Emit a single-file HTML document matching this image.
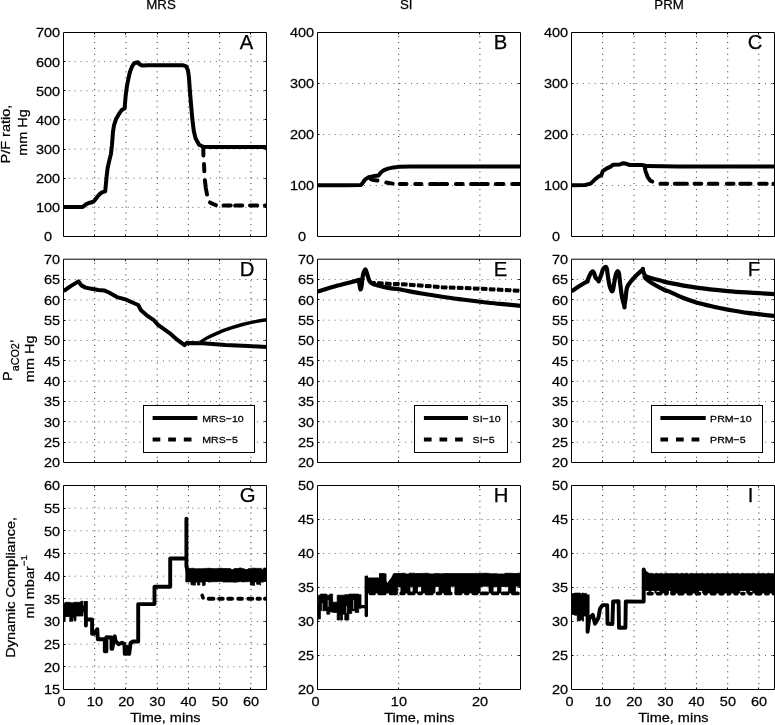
<!DOCTYPE html>
<html lang="en"><head><meta charset="utf-8"><title>Recruitment manoeuvres: P/F ratio, PaCO2 and dynamic compliance</title>
<style>
html,body{margin:0;padding:0;background:#fff;}
body{width:775px;height:725px;overflow:hidden;}
svg{display:block;}
svg text{font-family:"Liberation Sans", Arial, Helvetica, sans-serif;fill:#000;stroke:#000;stroke-width:.25px;}
.tk{font-size:13.45px;}
.ti{font-size:13.3px;}
.lb{font-size:13.45px;}
.pl{font-size:20.3px;}
.lg{font-size:9.8px;}
.ax{fill:none;stroke:#000;stroke-width:1;}
.gr{fill:none;stroke:#000;stroke-width:1;stroke-dasharray:1 4.88;stroke-opacity:.85;}
.gh{stroke-opacity:.6;}
.cv{fill:none;stroke:#000;stroke-width:4.0;stroke-linejoin:round;stroke-linecap:butt;}
</style></head><body>
<svg width="775" height="725" viewBox="0 0 775 725">
<rect x="0" y="0" width="775" height="725" fill="#fff"/>
<defs>
<clipPath id="c00"><rect x="63.5" y="32.5" width="203" height="204"/></clipPath>
<clipPath id="c01"><rect x="317.5" y="32.5" width="203" height="204"/></clipPath>
<clipPath id="c02"><rect x="571.5" y="32.5" width="203" height="204"/></clipPath>
<clipPath id="c10"><rect x="63.5" y="259.2" width="203" height="203.3"/></clipPath>
<clipPath id="c11"><rect x="317.5" y="259.2" width="203" height="203.3"/></clipPath>
<clipPath id="c12"><rect x="571.5" y="259.2" width="203" height="203.3"/></clipPath>
<clipPath id="c20"><rect x="63.5" y="485.5" width="203" height="204"/></clipPath>
<clipPath id="c21"><rect x="317.5" y="485.5" width="203" height="204"/></clipPath>
<clipPath id="c22"><rect x="571.5" y="485.5" width="203" height="204"/></clipPath>
</defs>
<g>
<path class="gr" d="M94.7 237 V32.5 M126 237 V32.5 M157.2 237 V32.5 M188.4 237 V32.5 M219.7 237 V32.5 M250.9 237 V32.5"/>
<path class="gr gh" d="M63 207.4 H266.5 M63 178.2 H266.5 M63 149.1 H266.5 M63 119.9 H266.5 M63 90.8 H266.5 M63 61.6 H266.5"/>
<g clip-path="url(#c00)">
<path class="cv" d="M203.3 147 L203.4 155.4 M204 164.1 L204.3 171.2 M204.9 180.3 L205.8 188 L207 194.5 M210 202.4 L213 204 L215.9 205.1 M223.5 205.6 L230.7 205.6 M235.2 205.6 L242.3 205.6 M250 205.6 L257.2 205.6 M264.9 205.6 L269 205.6" style="stroke-linecap:round"/>
<path class="cv" d="M63.6 206.9 L82.7 206.9 L86.3 204.1 L89.8 202.7 L93.4 201.7 L96.2 198.4 L99.1 194.6 L101.9 192.4 L105.2 191.4 L105.8 185.3 L106.6 176.8 L107.6 168.3 L109 161.9 L110.9 154.1 L111.9 145.5 L112.6 137 L112.9 132.4 L114 125.3 L116.1 118.9 L119 113.9 L121.8 109.9 L124.7 108.2 L125.1 102.5 L125.7 95.4 L126.8 86.9 L128.5 78.4 L129.9 72 L132.2 66.3 L134.2 63.2 L137.9 62.2 L139.6 64.4 L142.4 65.6 L148.1 65.3 L170 65.2 L182.7 65.2 L186.3 66.3 L188 70.6 L188.9 77 L189.8 89.7 L191 104 L192.4 119.6 L193.8 131 L195.5 138.1 L198.1 143 L199.1 144.8 L203.3 146.7 L210 146.9 L267 146.9"/>
</g>
<path class="ax" d="M63.5 32.5 H266.5 V236.5 H63.5 Z M94.5 236.5 v-2 M94.5 32.5 v2 M125.5 236.5 v-2 M125.5 32.5 v2 M157.5 236.5 v-2 M157.5 32.5 v2 M188.5 236.5 v-2 M188.5 32.5 v2 M219.5 236.5 v-2 M219.5 32.5 v2 M250.5 236.5 v-2 M250.5 32.5 v2 M63.5 207.5 h2 M266.5 207.5 h-2 M63.5 178.5 h2 M266.5 178.5 h-2 M63.5 149.5 h2 M266.5 149.5 h-2 M63.5 119.5 h2 M266.5 119.5 h-2 M63.5 90.5 h2 M266.5 90.5 h-2 M63.5 61.5 h2 M266.5 61.5 h-2"/>
<text class="tk" transform="translate(52 241.4) scale(1.078 1)" text-anchor="end">0</text>
<text class="tk" transform="translate(60.1 212.3) scale(1.078 1)" text-anchor="end">100</text>
<text class="tk" transform="translate(60.1 183.1) scale(1.078 1)" text-anchor="end">200</text>
<text class="tk" transform="translate(60.1 154) scale(1.078 1)" text-anchor="end">300</text>
<text class="tk" transform="translate(60.1 124.8) scale(1.078 1)" text-anchor="end">400</text>
<text class="tk" transform="translate(60.1 95.7) scale(1.078 1)" text-anchor="end">500</text>
<text class="tk" transform="translate(60.1 66.5) scale(1.078 1)" text-anchor="end">600</text>
<text class="tk" transform="translate(60.1 37.4) scale(1.078 1)" text-anchor="end">700</text>
<text class="pl" x="239.7" y="49.4">A</text>
</g>
<g>
<path class="gr" d="M398.7 237 V32.5 M479.9 237 V32.5"/>
<path class="gr gh" d="M317 185.5 H520.5 M317 134.5 H520.5 M317 83.5 H520.5"/>
<g clip-path="url(#c01)">
<path class="cv" d="M370.8 179 L373.5 180 L377.4 180.6 M386.3 182.5 L392.6 183.6 M399.7 184 H406.5 M415.2 184 H421.4 M430.1 184 H437.6 M439.8 184 H447.1 M455.9 184 H462.7 M471 184 H478.2 M480.4 184 H487.8 M495.8 184 H503.4 M512.1 184 H521" style="stroke-linecap:round"/>
<path class="cv" d="M317.6 185.3 L346.7 185.3 L360.9 185 L363 182.5 L365.2 179.4 L368.7 177.2 L373.7 176.1 L378.7 175.4 L380.8 172.5 L383.6 170.4 L387.9 168.6 L393.6 167.4 L399.3 166.8 L410.6 166.6 L521 166.6"/>
</g>
<path class="ax" d="M317.5 32.5 H520.5 V236.5 H317.5 Z M398.5 236.5 v-2 M398.5 32.5 v2 M479.5 236.5 v-2 M479.5 32.5 v2 M317.5 185.5 h2 M520.5 185.5 h-2 M317.5 134.5 h2 M520.5 134.5 h-2 M317.5 83.5 h2 M520.5 83.5 h-2"/>
<text class="tk" transform="translate(306.1 241.4) scale(1.078 1)" text-anchor="end">0</text>
<text class="tk" transform="translate(314.1 190.4) scale(1.078 1)" text-anchor="end">100</text>
<text class="tk" transform="translate(314.1 139.4) scale(1.078 1)" text-anchor="end">200</text>
<text class="tk" transform="translate(314.1 88.4) scale(1.078 1)" text-anchor="end">300</text>
<text class="tk" transform="translate(314.1 37.4) scale(1.078 1)" text-anchor="end">400</text>
<text class="pl" x="493.7" y="49.4">B</text>
</g>
<g>
<path class="gr" d="M602.7 237 V32.5 M634 237 V32.5 M665.2 237 V32.5 M696.4 237 V32.5 M727.7 237 V32.5 M758.9 237 V32.5"/>
<path class="gr gh" d="M571 185.5 H774.5 M571 134.5 H774.5 M571 83.5 H774.5"/>
<g clip-path="url(#c02)">
<path class="cv" d="M644.7 166.1 L645.5 171.1 L647.6 176.8 L650 180.4 L652.2 181.6 M660.4 183.7 H667.2 M674.8 183.7 H686.9 M694.5 183.7 H701.3 M708.8 183.7 H717.4 M726.8 183.7 H733.5 M740.2 183.7 H750.6 M759.1 183.7 H766.7 M773.4 183.7 H777" style="stroke-linecap:round"/>
<path class="cv" d="M571.6 185.3 L585.1 185 L590.7 183.6 L595 179.4 L598.6 176.5 L601.4 175.1 L602.8 171.1 L606.4 168.6 L610.6 166.6 L613.2 164.7 L619.9 164.4 L622.7 163.3 L625.6 163.6 L629.8 165 L641.9 165 L647.6 166.1 L678 166.6 L775 166.6"/>
</g>
<path class="ax" d="M571.5 32.5 H774.5 V236.5 H571.5 Z M602.5 236.5 v-2 M602.5 32.5 v2 M633.5 236.5 v-2 M633.5 32.5 v2 M665.5 236.5 v-2 M665.5 32.5 v2 M696.5 236.5 v-2 M696.5 32.5 v2 M727.5 236.5 v-2 M727.5 32.5 v2 M758.5 236.5 v-2 M758.5 32.5 v2 M571.5 185.5 h2 M774.5 185.5 h-2 M571.5 134.5 h2 M774.5 134.5 h-2 M571.5 83.5 h2 M774.5 83.5 h-2"/>
<text class="tk" transform="translate(560.1 241.4) scale(1.078 1)" text-anchor="end">0</text>
<text class="tk" transform="translate(568.1 190.4) scale(1.078 1)" text-anchor="end">100</text>
<text class="tk" transform="translate(568.1 139.4) scale(1.078 1)" text-anchor="end">200</text>
<text class="tk" transform="translate(568.1 88.4) scale(1.078 1)" text-anchor="end">300</text>
<text class="tk" transform="translate(568.1 37.4) scale(1.078 1)" text-anchor="end">400</text>
<text class="pl" x="747.7" y="49.4">C</text>
</g>
<g>
<path class="gr" d="M94.7 262.7 V462.5 M126 262.7 V462.5 M157.2 262.7 V462.5 M188.4 262.7 V462.5 M219.7 262.7 V462.5 M250.9 262.7 V462.5"/>
<path class="gr gh" d="M63 442.2 H266.5 M63 421.8 H266.5 M63 401.5 H266.5 M63 381.2 H266.5 M63 360.9 H266.5 M63 340.5 H266.5 M63 320.2 H266.5 M63 299.9 H266.5 M63 279.5 H266.5"/>
<g clip-path="url(#c10)">
<path class="cv" d="M63.6 291.1 L70.7 286.1 L78.5 281.4 L81.3 285.4 L85.6 287.6 L92.7 289 L98.4 290 L104.1 290.4 L109 292.5 L116.9 297.1 L125.4 299.4 L132.5 302.5 L138.2 305 L141 310.3 L146.7 315.3 L153.8 320.2 L158.1 324.9 L169.9 333.3 L177.1 339.7 L184.5 345.2 L186.8 342.9 L202.7 343.2 L225.4 345 L248.1 346.1 L267 346.9" style="stroke-width:4"/>
<path class="cv" d="M200.5 342 C201.8 341.2 205.2 338.9 208.4 337.3 C211.6 335.7 215.9 333.7 219.7 332.1 C223.5 330.5 227.3 329.2 231.1 327.9 C234.9 326.6 238.7 325.5 242.5 324.5 C246.3 323.5 249.7 322.7 253.8 321.9 C257.9 321.1 264.8 320.1 267 319.8" style="stroke-width:3.4"/>
</g>
<path class="ax" d="M63.5 259.2 H266.5 V462.5 H63.5 Z M94.5 462.5 v-2 M94.5 259.2 v2 M125.5 462.5 v-2 M125.5 259.2 v2 M157.5 462.5 v-2 M157.5 259.2 v2 M188.5 462.5 v-2 M188.5 259.2 v2 M219.5 462.5 v-2 M219.5 259.2 v2 M250.5 462.5 v-2 M250.5 259.2 v2 M63.5 442.5 h2 M266.5 442.5 h-2 M63.5 421.5 h2 M266.5 421.5 h-2 M63.5 401.5 h2 M266.5 401.5 h-2 M63.5 381.5 h2 M266.5 381.5 h-2 M63.5 360.5 h2 M266.5 360.5 h-2 M63.5 340.5 h2 M266.5 340.5 h-2 M63.5 320.5 h2 M266.5 320.5 h-2 M63.5 299.5 h2 M266.5 299.5 h-2 M63.5 279.5 h2 M266.5 279.5 h-2"/>
<text class="tk" transform="translate(60.1 467.4) scale(1.078 1)" text-anchor="end">20</text>
<text class="tk" transform="translate(60.1 447.1) scale(1.078 1)" text-anchor="end">25</text>
<text class="tk" transform="translate(60.1 426.7) scale(1.078 1)" text-anchor="end">30</text>
<text class="tk" transform="translate(60.1 406.4) scale(1.078 1)" text-anchor="end">35</text>
<text class="tk" transform="translate(60.1 386.1) scale(1.078 1)" text-anchor="end">40</text>
<text class="tk" transform="translate(60.1 365.8) scale(1.078 1)" text-anchor="end">45</text>
<text class="tk" transform="translate(60.1 345.4) scale(1.078 1)" text-anchor="end">50</text>
<text class="tk" transform="translate(60.1 325.1) scale(1.078 1)" text-anchor="end">55</text>
<text class="tk" transform="translate(60.1 304.8) scale(1.078 1)" text-anchor="end">60</text>
<text class="tk" transform="translate(60.1 284.4) scale(1.078 1)" text-anchor="end">65</text>
<text class="tk" transform="translate(60.1 264.1) scale(1.078 1)" text-anchor="end">70</text>
<text class="pl" x="239.7" y="276.1">D</text>
</g>
<g>
<path class="gr" d="M398.7 262.7 V462.5 M479.9 262.7 V462.5"/>
<path class="gr gh" d="M317 442.2 H520.5 M317 421.8 H520.5 M317 401.5 H520.5 M317 381.2 H520.5 M317 360.9 H520.5 M317 340.5 H520.5 M317 320.2 H520.5 M317 299.9 H520.5 M317 279.5 H520.5"/>
<g clip-path="url(#c11)">
<path class="cv" d="M372.5 282.9 L378.9 283.3 L391 283.9 L399.1 284 L420 285.5 L442.1 287.2 L482.3 288.8 L521 290.8" style="stroke-dasharray:4.6 3.4;stroke-dashoffset:2.5;stroke-width:2.4;stroke-linecap:round"/>
<path class="cv" d="M372.5 282.9 L378.9 283.3 L391 283.9 L399.1 284 L420 285.5 L442.1 287.2 L482.3 288.8 L521 290.8" style="stroke-dasharray:6.2 1.8;stroke-dashoffset:3.3"/>
<path class="cv" d="M317.6 291.6 C320.9 290.6 330.9 287.5 337.6 285.6 C344.3 283.7 354.4 281.3 357.8 280.4 C361.2 279.5 357.6 279.9 357.8 280.4 C358.1 280.9 358.9 281.7 359.3 283.2 C359.7 284.7 360 289 360.4 289.4 C360.8 289.8 361.2 288.1 361.6 285.8 C362 283.5 362.3 278.2 362.9 275.5 C363.5 272.8 364.5 269.3 365.3 269.3 C366.1 269.3 366.9 273.5 367.6 275.5 C368.3 277.5 368.8 279.8 369.6 281.2 C370.5 282.6 371.1 283.1 372.7 283.9 C374.2 284.7 376.1 285.1 378.9 285.8 C381.7 286.5 385.9 287.5 389.3 288.1 C392.7 288.7 394 288.5 399.1 289.3 C404.2 290.1 412.8 292 420 293.2 C427.2 294.4 435.1 295.6 442.1 296.7 C449.1 297.8 455.3 298.6 462 299.5 C468.7 300.4 476 301.3 482.3 302 C488.6 302.7 493.6 303.3 500 303.9 C506.4 304.5 517.5 305.5 521 305.8" style="stroke-width:4.2"/>
</g>
<path class="ax" d="M317.5 259.2 H520.5 V462.5 H317.5 Z M398.5 462.5 v-2 M398.5 259.2 v2 M479.5 462.5 v-2 M479.5 259.2 v2 M317.5 442.5 h2 M520.5 442.5 h-2 M317.5 421.5 h2 M520.5 421.5 h-2 M317.5 401.5 h2 M520.5 401.5 h-2 M317.5 381.5 h2 M520.5 381.5 h-2 M317.5 360.5 h2 M520.5 360.5 h-2 M317.5 340.5 h2 M520.5 340.5 h-2 M317.5 320.5 h2 M520.5 320.5 h-2 M317.5 299.5 h2 M520.5 299.5 h-2 M317.5 279.5 h2 M520.5 279.5 h-2"/>
<text class="tk" transform="translate(314.1 467.4) scale(1.078 1)" text-anchor="end">20</text>
<text class="tk" transform="translate(314.1 447.1) scale(1.078 1)" text-anchor="end">25</text>
<text class="tk" transform="translate(314.1 426.7) scale(1.078 1)" text-anchor="end">30</text>
<text class="tk" transform="translate(314.1 406.4) scale(1.078 1)" text-anchor="end">35</text>
<text class="tk" transform="translate(314.1 386.1) scale(1.078 1)" text-anchor="end">40</text>
<text class="tk" transform="translate(314.1 365.8) scale(1.078 1)" text-anchor="end">45</text>
<text class="tk" transform="translate(314.1 345.4) scale(1.078 1)" text-anchor="end">50</text>
<text class="tk" transform="translate(314.1 325.1) scale(1.078 1)" text-anchor="end">55</text>
<text class="tk" transform="translate(314.1 304.8) scale(1.078 1)" text-anchor="end">60</text>
<text class="tk" transform="translate(314.1 284.4) scale(1.078 1)" text-anchor="end">65</text>
<text class="tk" transform="translate(314.1 264.1) scale(1.078 1)" text-anchor="end">70</text>
<text class="pl" x="493.7" y="276.1">E</text>
</g>
<g>
<path class="gr" d="M602.7 262.7 V462.5 M634 262.7 V462.5 M665.2 262.7 V462.5 M696.4 262.7 V462.5 M727.7 262.7 V462.5 M758.9 262.7 V462.5"/>
<path class="gr gh" d="M571 442.2 H774.5 M571 421.8 H774.5 M571 401.5 H774.5 M571 381.2 H774.5 M571 360.9 H774.5 M571 340.5 H774.5 M571 320.2 H774.5 M571 299.9 H774.5 M571 279.5 H774.5"/>
<g clip-path="url(#c12)">
<path class="cv" d="M571.6 291.4 C572.9 290.5 576.8 287.8 579.4 286.1 C582 284.4 585.9 282.2 587.2 281.4 C588.5 280.6 586.9 282.3 587.2 281.4 C587.6 280.5 588.6 277.7 589.3 276.2 C590 274.7 590.6 273.4 591.2 272.6 C591.8 271.8 592.4 271.2 592.9 271.4 C593.4 271.5 593.8 272.5 594.2 273.5 C594.7 274.5 594.9 276.4 595.6 277.6 C596.3 278.8 598.1 280.3 598.6 280.9 C599.1 281.4 598.2 281.8 598.6 280.9 C599 280 600.3 277.4 601 275.5 C601.7 273.6 602.2 271.2 602.8 269.8 C603.4 268.4 604 267.9 604.6 267.4 C605.2 266.9 605.7 266.6 606.1 267 C606.5 267.4 606.7 268.1 607 269.5 C607.3 270.9 607.4 272.9 607.8 275.5 C608.2 278.1 608.9 282.9 609.5 285.4 C610.1 287.9 610.8 289.3 611.2 290.3 C611.6 291.3 611.8 291.4 612.1 291.3 C612.4 291.2 612.7 290.8 613 289.8 C613.3 288.8 613.4 287.8 613.8 285.4 C614.2 283 615.1 277.7 615.6 275.5 C616.1 273.3 616.6 272.7 617 272 C617.4 271.3 617.7 271.1 618 271.4 C618.3 271.6 618.7 271.9 619 273.5 C619.3 275.1 619.4 277.3 619.9 281.2 C620.4 285.1 621.2 292.6 622 296.8 C622.8 301 624 304.7 624.4 306.3 C624.8 307.9 624.2 307.7 624.4 306.3 C624.6 304.9 625.2 301.3 625.6 298.2 C626 295.1 626.2 290.3 627 287.6 C627.8 284.9 629 283.9 630.5 281.9 C632 279.9 634.2 277.5 636.2 275.5 C638.2 273.5 641.5 270.7 642.6 269.7 C643.7 268.7 642.2 268.7 642.6 269.7 C643 270.7 644.4 274.5 644.7 275.5" style="stroke-width:4.2"/>
<path class="cv" d="M644.7 275.5 C645.2 275.7 645 276.1 647.6 276.9 C650.2 277.7 657 279.6 660.4 280.5 C663.8 281.4 662 281.4 668 282.6 C674 283.8 686.4 286.2 696.4 287.6 C706.4 289 718.2 290.2 727.7 291.1 C737.2 292 745.4 292.3 753.3 292.8 C761.2 293.3 771.4 294 775 294.2" style="stroke-width:4.2"/>
<path class="cv" d="M644.7 275.5 C644.8 276 644.1 276.9 645.5 278.3 C646.9 279.7 650.1 282.1 653.3 284 C656.5 285.9 662.1 288.8 664.6 290 C667.1 291.2 665.1 289.9 668 291.1 C670.9 292.4 677.5 295.6 682.2 297.5 C686.9 299.4 691.2 301 696.4 302.5 C701.6 304 708.3 305.5 713.5 306.7 C718.7 307.9 722 308.6 727.7 309.6 C733.4 310.6 739.7 311.8 747.6 312.9 C755.5 314 770.4 315.5 775 316" style="stroke-width:4.2"/>
</g>
<path class="ax" d="M571.5 259.2 H774.5 V462.5 H571.5 Z M602.5 462.5 v-2 M602.5 259.2 v2 M633.5 462.5 v-2 M633.5 259.2 v2 M665.5 462.5 v-2 M665.5 259.2 v2 M696.5 462.5 v-2 M696.5 259.2 v2 M727.5 462.5 v-2 M727.5 259.2 v2 M758.5 462.5 v-2 M758.5 259.2 v2 M571.5 442.5 h2 M774.5 442.5 h-2 M571.5 421.5 h2 M774.5 421.5 h-2 M571.5 401.5 h2 M774.5 401.5 h-2 M571.5 381.5 h2 M774.5 381.5 h-2 M571.5 360.5 h2 M774.5 360.5 h-2 M571.5 340.5 h2 M774.5 340.5 h-2 M571.5 320.5 h2 M774.5 320.5 h-2 M571.5 299.5 h2 M774.5 299.5 h-2 M571.5 279.5 h2 M774.5 279.5 h-2"/>
<text class="tk" transform="translate(568.1 467.4) scale(1.078 1)" text-anchor="end">20</text>
<text class="tk" transform="translate(568.1 447.1) scale(1.078 1)" text-anchor="end">25</text>
<text class="tk" transform="translate(568.1 426.7) scale(1.078 1)" text-anchor="end">30</text>
<text class="tk" transform="translate(568.1 406.4) scale(1.078 1)" text-anchor="end">35</text>
<text class="tk" transform="translate(568.1 386.1) scale(1.078 1)" text-anchor="end">40</text>
<text class="tk" transform="translate(568.1 365.8) scale(1.078 1)" text-anchor="end">45</text>
<text class="tk" transform="translate(568.1 345.4) scale(1.078 1)" text-anchor="end">50</text>
<text class="tk" transform="translate(568.1 325.1) scale(1.078 1)" text-anchor="end">55</text>
<text class="tk" transform="translate(568.1 304.8) scale(1.078 1)" text-anchor="end">60</text>
<text class="tk" transform="translate(568.1 284.4) scale(1.078 1)" text-anchor="end">65</text>
<text class="tk" transform="translate(568.1 264.1) scale(1.078 1)" text-anchor="end">70</text>
<text class="pl" x="747.7" y="276.1">F</text>
</g>
<g>
<path class="gr" d="M94.7 690 V485.5 M126 690 V485.5 M157.2 690 V485.5 M188.4 690 V485.5 M219.7 690 V485.5 M250.9 690 V485.5"/>
<path class="gr gh" d="M63 666.8 H266.5 M63 644.2 H266.5 M63 621.5 H266.5 M63 598.8 H266.5 M63 576.2 H266.5 M63 553.5 H266.5 M63 530.8 H266.5 M63 508.2 H266.5"/>
<g clip-path="url(#c20)">
<path class="cv" d="M202.2 595.4 L203 597.8" style="stroke-linecap:round;stroke-width:3.6"/>
<path class="cv" d="M208.7 598.7 H213.4 M219.2 598.7 H222.7 M228.2 598.7 H232 M238.3 598.7 H241.9 M248.4 598.7 H252.3 M257.5 598.7 H259.9 M265 598.7 H268" style="stroke-linecap:round"/>
<path d="M63.9 603.3 L65.2 603.3 L65.2 602.3 L69.8 602.3 L69.8 602.8 L72.9 602.8 L72.9 602.8 L74 602.8 L74 602.3 L76 602.3 L76 602.3 L80.7 602.3 L80.7 601.3 L83 601.3 L83 605.9 L84.5 605.9 L84.5 611.9 L83 611.9 L83 616 L80.7 616 L80.7 616 L76 616 L76 620.6 L74 620.6 L74 617.5 L72.9 617.5 L72.9 621.2 L69.8 621.2 L69.8 616.5 L65.2 616.5 L65.2 620.6 L63.9 620.6Z" fill="#000" stroke="#000" stroke-width="0.8" stroke-linejoin="round"/>
<path d="M185.8 568.5 L188.8 568.5 L188.8 568.4 L191.9 568.4 L191.9 568.3 L194.1 568.3 L194.1 568.8 L196.7 568.8 L196.7 568.7 L201.7 568.7 L201.7 568.7 L204 568.7 L204 568.4 L207.9 568.4 L207.9 568.3 L210.6 568.3 L210.6 568.6 L213.9 568.6 L213.9 568.7 L217.6 568.7 L217.6 568.3 L222.6 568.3 L222.6 568.5 L226.1 568.5 L226.1 568.6 L230.7 568.6 L230.7 569.6 L234 569.6 L234 568.5 L236.2 568.5 L236.2 568.5 L239.1 568.5 L239.1 568 L241.6 568 L241.6 568.7 L244.3 568.7 L244.3 569.5 L248 569.5 L248 568.7 L251.2 568.7 L251.2 568.2 L253.8 568.2 L253.8 568.3 L256.5 568.3 L256.5 568.4 L261.4 568.4 L261.4 569.4 L263.6 569.4 L263.6 568.1 L266.7 568.1 L266.7 568.1 L267 568.1 L267 581.5 L266.7 581.5 L266.7 581.5 L263.6 581.5 L263.6 582.1 L261.4 582.1 L261.4 582 L256.5 582 L256.5 582 L253.8 582 L253.8 582 L251.2 582 L251.2 581.6 L248 581.6 L248 581.7 L244.3 581.7 L244.3 581.9 L241.6 581.9 L241.6 581.6 L239.1 581.6 L239.1 581.9 L236.2 581.9 L236.2 582.2 L234 582.2 L234 582 L230.7 582 L230.7 582 L226.1 582 L226.1 582 L222.6 582 L222.6 581.6 L217.6 581.6 L217.6 581.7 L213.9 581.7 L213.9 581.7 L210.6 581.7 L210.6 582 L207.9 582 L207.9 581.5 L204 581.5 L204 582 L201.7 582 L201.7 581.6 L196.7 581.6 L196.7 581.8 L194.1 581.8 L194.1 581.6 L191.9 581.6 L191.9 581.8 L188.8 581.8 L188.8 581.9 L185.8 581.9Z" fill="#000" stroke="#000" stroke-width="0.8" stroke-linejoin="round"/>
<path d="M191 579.7 L192.6 579.7 L192.6 579.7 L195.4 579.7 L195.4 580.3 L197.5 580.3 L197.5 579.7 L199.8 579.7 L199.8 579.6 L202.6 579.6 L202.6 579.6 L204.4 579.6 L204.4 579.8 L205.2 579.8 L205.2 584.9 L204.4 584.9 L204.4 585.6 L202.6 585.6 L202.6 582 L199.8 582 L199.8 585 L197.5 585 L197.5 582 L195.4 582 L195.4 585.1 L192.6 585.1 L192.6 584.8 L191 584.8Z M250.4 580.2 L253.9 580.2 L253.9 580.3 L254.4 580.3 L254.4 585.6 L253.9 585.6 L253.9 585.1 L250.4 585.1Z M256.7 580 L260.2 580 L260.2 579.8 L260.6 579.8 L260.6 585.1 L260.2 585.1 L260.2 584.3 L256.7 584.3Z" fill="#000" stroke="#000" stroke-width="0.8" stroke-linejoin="round"/>
<path class="cv" d="M85.9 600.9 L85.9 625.6 L85.9 619.5 L92.1 619.5 L92.1 633.7 L94.2 633.7 L97.3 629.2 L97.8 639.2 L104.8 639.2 L104.8 651.3 L106.4 651.3 L106.4 637.2 L111.5 637.5 L111.5 648.8 L112.2 648.8 L114.8 636.3 L115.6 641 L118.6 644.3 L122 642.8 L124.4 644 L124.8 653.9 L126.6 653.9 L127.2 647 L128 653.9 L129.2 653.9 L130.6 643 L133 641.5 L138.2 641.5 L138.2 604.1 L154.5 604.1 L154.5 586.8 L170.2 586.8 L170.2 558.5 L186.4 558.5 L186.4 518.6 L186.4 566 L187.2 569.5 L190 571" style="stroke-width:3.9"/>
</g>
<path class="ax" d="M63.5 485.5 H266.5 V689.5 H63.5 Z M94.5 689.5 v-2 M94.5 485.5 v2 M125.5 689.5 v-2 M125.5 485.5 v2 M157.5 689.5 v-2 M157.5 485.5 v2 M188.5 689.5 v-2 M188.5 485.5 v2 M219.5 689.5 v-2 M219.5 485.5 v2 M250.5 689.5 v-2 M250.5 485.5 v2 M63.5 666.5 h2 M266.5 666.5 h-2 M63.5 644.5 h2 M266.5 644.5 h-2 M63.5 621.5 h2 M266.5 621.5 h-2 M63.5 598.5 h2 M266.5 598.5 h-2 M63.5 576.5 h2 M266.5 576.5 h-2 M63.5 553.5 h2 M266.5 553.5 h-2 M63.5 530.5 h2 M266.5 530.5 h-2 M63.5 508.5 h2 M266.5 508.5 h-2"/>
<text class="tk" transform="translate(60.1 694.4) scale(1.078 1)" text-anchor="end">15</text>
<text class="tk" transform="translate(60.1 671.7) scale(1.078 1)" text-anchor="end">20</text>
<text class="tk" transform="translate(60.1 649.1) scale(1.078 1)" text-anchor="end">25</text>
<text class="tk" transform="translate(60.1 626.4) scale(1.078 1)" text-anchor="end">30</text>
<text class="tk" transform="translate(60.1 603.7) scale(1.078 1)" text-anchor="end">35</text>
<text class="tk" transform="translate(60.1 581.1) scale(1.078 1)" text-anchor="end">40</text>
<text class="tk" transform="translate(60.1 558.4) scale(1.078 1)" text-anchor="end">45</text>
<text class="tk" transform="translate(60.1 535.7) scale(1.078 1)" text-anchor="end">50</text>
<text class="tk" transform="translate(60.1 513.1) scale(1.078 1)" text-anchor="end">55</text>
<text class="tk" transform="translate(60.1 490.4) scale(1.078 1)" text-anchor="end">60</text>
<text class="tk" transform="translate(61.5 706.3) scale(1.078 1)" text-anchor="middle">0</text>
<text class="tk" transform="translate(94.9 706.3) scale(1.078 1)" text-anchor="middle">10</text>
<text class="tk" transform="translate(126.2 706.3) scale(1.078 1)" text-anchor="middle">20</text>
<text class="tk" transform="translate(157.4 706.3) scale(1.078 1)" text-anchor="middle">30</text>
<text class="tk" transform="translate(188.6 706.3) scale(1.078 1)" text-anchor="middle">40</text>
<text class="tk" transform="translate(219.9 706.3) scale(1.078 1)" text-anchor="middle">50</text>
<text class="tk" transform="translate(251.1 706.3) scale(1.078 1)" text-anchor="middle">60</text>
<text class="lb" transform="translate(165.3 722.4) scale(1.078 1)" text-anchor="middle">Time, mins</text>
<text class="pl" x="239.7" y="502.4">G</text>
</g>
<g>
<path class="gr" d="M398.7 690 V485.5 M479.9 690 V485.5"/>
<path class="gr gh" d="M317 655.5 H520.5 M317 621.5 H520.5 M317 587.5 H520.5 M317 553.5 H520.5 M317 519.5 H520.5"/>
<g clip-path="url(#c21)">
<path d="M318.4 595.2 L320.4 595.2 L320.4 594.1 L326.8 594.1 L326.8 595.2 L329.7 595.2 L329.7 594.1 L332.6 594.1 L332.6 602.2 L337.2 602.2 L337.2 595.2 L339.6 595.2 L339.6 595.2 L340.4 595.2 L340.4 595.2 L342.5 595.2 L342.5 595.2 L344.8 595.2 L344.8 594.7 L348.8 594.7 L348.8 594.1 L351.7 594.1 L351.7 594.1 L355.2 594.1 L355.2 594.1 L358.7 594.1 L358.7 594.7 L361 594.7 L361 608.2 L358.7 608.2 L358.7 612.4 L355.2 612.4 L355.2 610.7 L351.7 610.7 L351.7 613.6 L348.8 613.6 L348.8 620 L344.8 620 L344.8 614.2 L342.5 614.2 L342.5 620 L340.4 620 L340.4 615 L339.6 615 L339.6 620 L337.2 620 L337.2 612.4 L332.6 612.4 L332.6 611.9 L329.7 611.9 L329.7 614.2 L326.8 614.2 L326.8 610.7 L320.4 610.7 L320.4 618.8 L318.4 618.8Z" fill="#000" stroke="#000" stroke-width="0.8" stroke-linejoin="round"/>
<path d="M368 574 L373.2 574 L373.2 573.4 L377.3 573.4 L377.3 573.6 L384.8 573.6 L384.8 573.9 L388.3 573.9 L388.3 573.8 L393.7 573.8 L393.7 573.5 L401.5 573.5 L401.5 573.3 L405.4 573.3 L405.4 574 L409.1 574 L409.1 573.2 L414.8 573.2 L414.8 573.5 L420.5 573.5 L420.5 573.4 L424.5 573.4 L424.5 573.3 L428.8 573.3 L428.8 573.9 L434.1 573.9 L434.1 573.6 L439.6 573.6 L439.6 573.8 L443.5 573.8 L443.5 573.5 L450.2 573.5 L450.2 573.6 L457.1 573.6 L457.1 573.6 L463.9 573.6 L463.9 573.6 L469.2 573.6 L469.2 573.6 L474.4 573.6 L474.4 573.4 L481.8 573.4 L481.8 573.3 L489 573.3 L489 573.7 L493.2 573.7 L493.2 573.7 L497 573.7 L497 574 L504.8 574 L504.8 573.3 L512.8 573.3 L512.8 573.5 L517.5 573.5 L517.5 573.2 L521 573.2 L521 586.6 L517.5 586.6 L517.5 586.1 L512.8 586.1 L512.8 586.5 L504.8 586.5 L504.8 586.5 L497 586.5 L497 586.8 L493.2 586.8 L493.2 586.8 L489 586.8 L489 586.2 L481.8 586.2 L481.8 586.9 L474.4 586.9 L474.4 586.7 L469.2 586.7 L469.2 586.7 L463.9 586.7 L463.9 586.8 L457.1 586.8 L457.1 586.3 L450.2 586.3 L450.2 586.5 L443.5 586.5 L443.5 586.5 L439.6 586.5 L439.6 586.5 L434.1 586.5 L434.1 586.8 L428.8 586.8 L428.8 586.4 L424.5 586.4 L424.5 586.6 L420.5 586.6 L420.5 586.8 L414.8 586.8 L414.8 586.6 L409.1 586.6 L409.1 586.4 L405.4 586.4 L405.4 586.7 L401.5 586.7 L401.5 586.7 L393.7 586.7 L393.7 586.7 L388.3 586.7 L388.3 586.7 L384.8 586.7 L384.8 586.7 L377.3 586.7 L377.3 586.6 L373.2 586.6 L373.2 586.4 L368 586.4Z" fill="#000" stroke="#000" stroke-width="0.8" stroke-linejoin="round"/>
<path class="cv" d="M370.5 593.4 H374 M379.3 593.4 H384.7 M390.6 593.4 H396 M401.2 593.4 H403.8 M409 593.4 H413.7 M419.1 593.4 H421.1 M426.6 593.4 H431.8 M437.6 593.4 H440.2 M445.5 593.4 H450.7 M456.3 593.4 H460.6 M465.9 593.4 H467.6 M473.4 593.4 H476.6 M481.8 593.4 H487.1 M492.8 593.4 H497.5 M502.8 593.4 H507.7 M512.9 593.4 H517.9" style="stroke-linecap:round;stroke-width:3.8"/>
<path d="M368 585H370.7V593H368Z M370.7 585H375.4V593H370.7Z M375.4 585H377.4V593H375.4Z M377.4 585H379.7V593H377.4Z M379.7 585H381.8V593H379.7Z M381.8 585H384V593H381.8Z M384 585H386.6V593H384Z M386.6 585H389.1V593H386.6Z M389.1 585H391.2V593H389.1Z M391.2 585H392.8V593H391.2Z M392.8 585H394.3V593H392.8Z M394.3 585H397.7V593H394.3Z M400.9 585H402.8V593H400.9Z M402.8 585H405.8V593H402.8Z M405.8 585H410V593H405.8Z" fill="#000" stroke="#000" stroke-width="0.8" stroke-linejoin="round"/>
<path d="M413 585H417.5V593H413Z M421.5 585H424.9V593H421.5Z M424.9 585H427.4V593H424.9Z M427.4 585H429.3V593H427.4Z M429.3 585H433V593H429.3Z M433 585H435V593H433Z M439 585H442.6V593H439Z M442.6 585H444.8V593H442.6Z M444.8 585H447.7V593H444.8Z M447.7 585H450.5V593H447.7Z M454.9 585H458V593H454.9Z M458 585H462.4V593H458Z M462.4 585H465V593H462.4Z M465 585H467.6V593H465Z M467.6 585H470.6V593H467.6Z M470.6 585H473.7V593H470.6Z M473.7 585H475.9V593H473.7Z M475.9 585H478.6V593H475.9Z M478.6 585H480.2V593H478.6Z M489 585H493.1V593H489Z M497.5 585H501V593H497.5Z M508.4 585H512.3V593H508.4Z M512.3 585H515.4V593H512.3Z" fill="#000" stroke="#000" stroke-width="0.8" stroke-linejoin="round"/>
<path d="M367.5 573H379V577.6H367.5Z M386.5 573 L393.5 573 L391 578 L387 583 L386.5 580Z" fill="#fff"/>
<path d="M322.3 603V611 M328.2 600V607 M346.6 606V613 M353.6 600V609" stroke="#fff" stroke-width="0.6" fill="none"/>
<path class="cv" d="M317.6 619.5 L318.8 604" style="stroke-width:3"/>
<path class="cv" d="M359 606.6 L366.3 606.6 L366.3 615.6 L366.3 575.7" style="stroke-width:3.4"/>
</g>
<path class="ax" d="M317.5 485.5 H520.5 V689.5 H317.5 Z M398.5 689.5 v-2 M398.5 485.5 v2 M479.5 689.5 v-2 M479.5 485.5 v2 M317.5 655.5 h2 M520.5 655.5 h-2 M317.5 621.5 h2 M520.5 621.5 h-2 M317.5 587.5 h2 M520.5 587.5 h-2 M317.5 553.5 h2 M520.5 553.5 h-2 M317.5 519.5 h2 M520.5 519.5 h-2"/>
<text class="tk" transform="translate(314.1 694.4) scale(1.078 1)" text-anchor="end">20</text>
<text class="tk" transform="translate(314.1 660.4) scale(1.078 1)" text-anchor="end">25</text>
<text class="tk" transform="translate(314.1 626.4) scale(1.078 1)" text-anchor="end">30</text>
<text class="tk" transform="translate(314.1 592.4) scale(1.078 1)" text-anchor="end">35</text>
<text class="tk" transform="translate(314.1 558.4) scale(1.078 1)" text-anchor="end">40</text>
<text class="tk" transform="translate(314.1 524.4) scale(1.078 1)" text-anchor="end">45</text>
<text class="tk" transform="translate(314.1 490.4) scale(1.078 1)" text-anchor="end">50</text>
<text class="tk" transform="translate(315.5 706.3) scale(1.078 1)" text-anchor="middle">0</text>
<text class="tk" transform="translate(398.9 706.3) scale(1.078 1)" text-anchor="middle">10</text>
<text class="tk" transform="translate(480.1 706.3) scale(1.078 1)" text-anchor="middle">20</text>
<text class="lb" transform="translate(419.3 722.4) scale(1.078 1)" text-anchor="middle">Time, mins</text>
<text class="pl" x="493.7" y="502.4">H</text>
</g>
<g>
<path class="gr" d="M602.7 690 V485.5 M634 690 V485.5 M665.2 690 V485.5 M696.4 690 V485.5 M727.7 690 V485.5 M758.9 690 V485.5"/>
<path class="gr gh" d="M571 655.5 H774.5 M571 621.5 H774.5 M571 587.5 H774.5 M571 553.5 H774.5 M571 519.5 H774.5"/>
<g clip-path="url(#c22)">
<path d="M571.6 593.6 L574.5 593.6 L574.5 593.1 L577.3 593.1 L577.3 593.1 L580.5 593.1 L580.5 594 L582 594 L582 593.1 L583.5 593.1 L583.5 593.4 L586.6 593.4 L586.6 616 L583.5 616 L583.5 620.7 L582 620.7 L582 619.5 L580.5 619.5 L580.5 620.7 L577.3 620.7 L577.3 615.2 L574.5 615.2 L574.5 614.5 L571.6 614.5Z" fill="#000" stroke="#000" stroke-width="0.8" stroke-linejoin="round"/>
<path d="M645.5 571 L649.5 573.6 L651.1 573.2 L652.8 573.7 L654.5 574 L656.2 573.2 L657.9 573.7 L659.6 573.7 L661.3 573.2 L663 574 L664.7 573.7 L666.4 573.2 L668.1 573.7 L669.8 573.7 L671.5 573.5 L673.2 573.7 L674.9 573.7 L676.6 573.2 L678.3 573.7 L680 574 L681.7 573.2 L683.4 573.7 L685.1 573.7 L686.8 573.2 L688.5 574 L690.2 573.7 L691.9 573.2 L693.6 573.7 L695.3 573.7 L697 573.5 L698.7 573.7 L700.4 573.7 L702.1 573.2 L703.8 573.7 L705.5 574 L707.2 573.2 L708.9 573.7 L710.6 573.7 L712.3 573.2 L714 574 L715.7 573.7 L717.4 573.2 L719.1 573.7 L720.8 573.7 L722.5 573.5 L724.2 573.7 L725.9 573.7 L727.6 573.2 L729.3 573.7 L731 574 L732.7 573.2 L734.4 573.7 L736.1 573.7 L737.8 573.2 L739.5 574 L741.2 573.7 L742.9 573.2 L744.6 573.7 L746.3 573.7 L748 573.5 L749.7 573.7 L751.4 573.7 L753.1 573.2 L754.8 573.7 L756.5 574 L758.2 573.2 L759.9 573.7 L761.6 573.7 L763.3 573.2 L765 574 L766.7 573.7 L768.4 573.2 L770.1 573.7 L771.8 573.7 L773.5 573.5 L775.2 573.7 L775 573.6 V590.5 H645.5 Z" fill="#000" stroke="#000" stroke-width="0.8" stroke-linejoin="round"/>
<path class="cv" d="M648.3 593.6 H652 M657.5 593.6 H660.6 M665.8 593.6 H666.9 M672 593.6 H674.1 M679.2 593.6 H682.7 M688.1 593.6 H691 M696.5 593.6 H699.5 M704.9 593.6 H705.9 M711.6 593.6 H714.8 M720.2 593.6 H722.8 M728.4 593.6 H729.6 M735.1 593.6 H736.9 M742 593.6 H743.8 M749.3 593.6 H751 M756.5 593.6 H760.5 M765.9 593.6 H768 M773.4 593.6 H776.5" style="stroke-linecap:round;stroke-width:3.8"/>
<path d="M649.2 589H650.7V593H649.2Z M654.9 589H656.2V593H654.9Z" fill="#000" stroke="#000" stroke-width="0.8" stroke-linejoin="round"/>
<path d="M660 589H662.8V593H660Z M662.8 589H666.4V593H662.8Z M666.4 589H668.4V593H666.4Z M670.8 589H676.5V593H670.8Z M676.5 589H680.1V593H676.5Z M680.1 589H686V593H680.1Z M686 589H688.7V593H686Z M688.7 589H694.4V593H688.7Z M694.4 589H698.5V593H694.4Z M702.4 589H704.5V593H702.4Z M704.5 589H708.3V593H704.5Z M708.3 589H713V593H708.3Z M713 589H718.5V593H713Z M718.5 589H720.1V593H718.5Z M720.1 589H723.8V593H720.1Z M723.8 589H726.7V593H723.8Z M726.7 589H729.7V593H726.7Z M729.7 589H735V593H729.7Z M735 589H739.9V593H735Z M746.6 589H749.4V593H746.6Z M752.7 589H756.9V593H752.7Z M756.9 589H760.3V593H756.9Z M760.3 589H762V593H760.3Z M762 589H767.3V593H762Z M767.3 589H773V593H767.3Z M773 589H775V593H773Z" fill="#000" stroke="#000" stroke-width="0.8" stroke-linejoin="round"/>
<path class="cv" d="M587.6 594.5 L587.6 631.7 L589.2 618.5 L592.8 614.9 L595 623.7 L598.4 618 L600 608.7 L602.6 605.1 L607.2 605.1 L607.5 623.7 L612.4 624 L613.1 601.5 L618.6 601.3 L619 627.8 L625.4 627.8 L625.8 601.5 L643.7 601.6 L643.7 569.5 L644.6 574 L647 576" style="stroke-width:3.9"/>
</g>
<path class="ax" d="M571.5 485.5 H774.5 V689.5 H571.5 Z M602.5 689.5 v-2 M602.5 485.5 v2 M633.5 689.5 v-2 M633.5 485.5 v2 M665.5 689.5 v-2 M665.5 485.5 v2 M696.5 689.5 v-2 M696.5 485.5 v2 M727.5 689.5 v-2 M727.5 485.5 v2 M758.5 689.5 v-2 M758.5 485.5 v2 M571.5 655.5 h2 M774.5 655.5 h-2 M571.5 621.5 h2 M774.5 621.5 h-2 M571.5 587.5 h2 M774.5 587.5 h-2 M571.5 553.5 h2 M774.5 553.5 h-2 M571.5 519.5 h2 M774.5 519.5 h-2"/>
<text class="tk" transform="translate(568.1 694.4) scale(1.078 1)" text-anchor="end">20</text>
<text class="tk" transform="translate(568.1 660.4) scale(1.078 1)" text-anchor="end">25</text>
<text class="tk" transform="translate(568.1 626.4) scale(1.078 1)" text-anchor="end">30</text>
<text class="tk" transform="translate(568.1 592.4) scale(1.078 1)" text-anchor="end">35</text>
<text class="tk" transform="translate(568.1 558.4) scale(1.078 1)" text-anchor="end">40</text>
<text class="tk" transform="translate(568.1 524.4) scale(1.078 1)" text-anchor="end">45</text>
<text class="tk" transform="translate(568.1 490.4) scale(1.078 1)" text-anchor="end">50</text>
<text class="tk" transform="translate(569.5 706.3) scale(1.078 1)" text-anchor="middle">0</text>
<text class="tk" transform="translate(602.9 706.3) scale(1.078 1)" text-anchor="middle">10</text>
<text class="tk" transform="translate(634.2 706.3) scale(1.078 1)" text-anchor="middle">20</text>
<text class="tk" transform="translate(665.4 706.3) scale(1.078 1)" text-anchor="middle">30</text>
<text class="tk" transform="translate(696.6 706.3) scale(1.078 1)" text-anchor="middle">40</text>
<text class="tk" transform="translate(727.9 706.3) scale(1.078 1)" text-anchor="middle">50</text>
<text class="tk" transform="translate(759.1 706.3) scale(1.078 1)" text-anchor="middle">60</text>
<text class="lb" transform="translate(673.3 722.4) scale(1.078 1)" text-anchor="middle">Time, mins</text>
<text class="pl" x="747.7" y="502.4">I</text>
</g>
<text class="ti" x="161" y="9.4" text-anchor="middle">MRS</text>
<text class="ti" x="406.2" y="9.4" text-anchor="middle">SI</text>
<text class="ti" x="669.1" y="9.4" text-anchor="middle">PRM</text>
<text class="lb" transform="translate(10.4 134.1) rotate(-90) scale(1.078 1)" text-anchor="middle">P/F ratio,</text>
<text class="lb" transform="translate(27.1 132.5) rotate(-90) scale(1.078 1)" text-anchor="middle">mm Hg</text>
<text class="lb" transform="translate(11.7 381) rotate(-90) scale(1.078 1)">P<tspan font-size="10px" dy="7.3">aCO2</tspan><tspan dy="-7.3">,</tspan></text>
<text class="lb" transform="translate(33.8 358.8) rotate(-90) scale(1.078 1)" text-anchor="middle">mm Hg</text>
<text class="lb" transform="translate(15.4 587.4) rotate(-90) scale(1.078 1)" text-anchor="middle">Dynamic Compliance,</text>
<text class="lb" transform="translate(33.7 618.5) rotate(-90) scale(1.078 1)">ml mbar<tspan font-size="9px" dy="-6.7">−1</tspan></text>
<g>
<rect class="ax" x="143.5" y="405.5" width="111" height="47" fill="#fff" style="fill:#fff"/>
<path d="M152.6 418.1 H197.4" stroke="#000" stroke-width="4" fill="none"/>
<path d="M152.6 439.4 H197.4" stroke="#000" stroke-width="4" stroke-dasharray="7.7 7.9" fill="none"/>
<text class="lg" transform="translate(202.3 421.8) scale(1.08 1)">MRS−10</text>
<text class="lg" transform="translate(202.3 443.1) scale(1.08 1)">MRS−5</text>
</g>
<g>
<rect class="ax" x="414.5" y="405.5" width="93" height="47" fill="#fff" style="fill:#fff"/>
<path d="M423.9 418.1 H468" stroke="#000" stroke-width="4" fill="none"/>
<path d="M423.9 439.4 H468" stroke="#000" stroke-width="4" stroke-dasharray="7.7 7.9" fill="none"/>
<text class="lg" transform="translate(472.6 421.8) scale(1.08 1)">SI−10</text>
<text class="lg" transform="translate(472.6 443.1) scale(1.08 1)">SI−5</text>
</g>
<g>
<rect class="ax" x="651.5" y="405.5" width="111" height="47" fill="#fff" style="fill:#fff"/>
<path d="M660.4 418.1 H705.7" stroke="#000" stroke-width="4" fill="none"/>
<path d="M660.4 439.4 H705.7" stroke="#000" stroke-width="4" stroke-dasharray="7.7 7.9" fill="none"/>
<text class="lg" transform="translate(710.1 421.8) scale(1.08 1)">PRM−10</text>
<text class="lg" transform="translate(710.1 443.1) scale(1.08 1)">PRM−5</text>
</g>
</svg>
</body></html>
